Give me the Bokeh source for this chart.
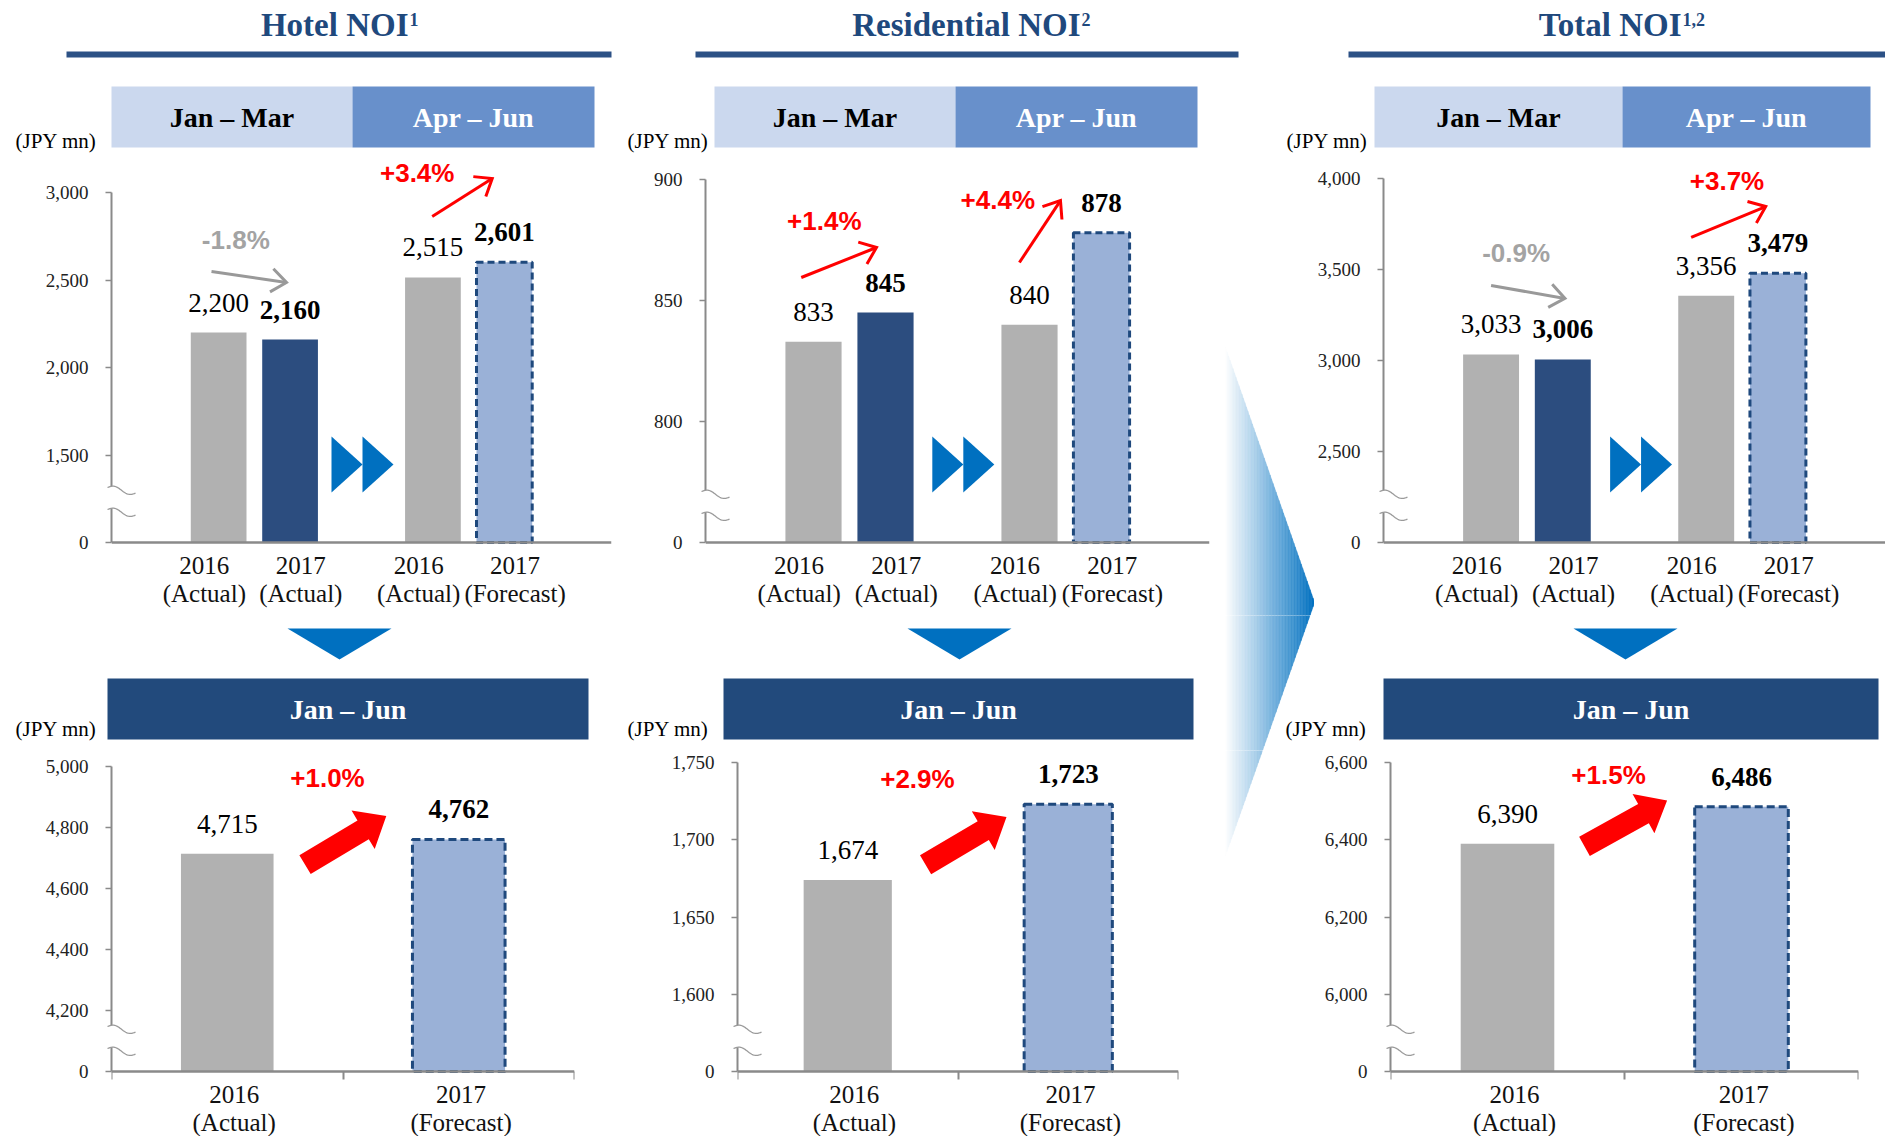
import math
from bokeh.plotting import figure
from bokeh.layouts import column, row
from bokeh.models import Range1d, FixedTicker, LinearAxis
from bokeh.core.properties import value
from bokeh.embed import file_html
from bokeh.resources import INLINE

# ---------------- data ----------------
quarter_labels = ["2016\n(Actual)", "2017\n(Actual)", "2016\n(Actual)", "2017\n(Forecast)"]
half_labels = ["2016\n(Actual)", "2017\n(Forecast)"]

hotel_quarter = [2200, 2160, 2515, 2601]
residential_quarter = [833, 845, 840, 878]
total_quarter = [3033, 3006, 3356, 3479]

hotel_half = [4715, 4762]
residential_half = [1674, 1723]
total_half = [6390, 6486]

# broken value axes: the first tick is the axis floor, shown as "0"
hotel_quarter_ticks = [1000, 1500, 2000, 2500, 3000]
hotel_quarter_tick_labels = ["0", "1,500", "2,000", "2,500", "3,000"]
residential_quarter_ticks = [750, 800, 850, 900]
residential_quarter_tick_labels = ["0", "800", "850", "900"]
total_quarter_ticks = [2000, 2500, 3000, 3500, 4000]
total_quarter_tick_labels = ["0", "2,500", "3,000", "3,500", "4,000"]

hotel_half_ticks = [4000, 4200, 4400, 4600, 4800, 5000]
hotel_half_tick_labels = ["0", "4,200", "4,400", "4,600", "4,800", "5,000"]
residential_half_ticks = [1550, 1600, 1650, 1700, 1750]
residential_half_tick_labels = ["0", "1,600", "1,650", "1,700", "1,750"]
total_half_ticks = [5800, 6000, 6200, 6400, 6600]
total_half_tick_labels = ["0", "6,000", "6,200", "6,400", "6,600"]

hotel_changes = ["-1.8%", "+3.4%", "+1.0%"]
residential_changes = ["+1.4%", "+4.4%", "+2.9%"]
total_changes = ["-0.9%", "+3.7%", "+1.5%"]

section_titles = ["Hotel NOI", "Residential NOI", "Total NOI"]
section_notes = ["1", "2", "1,2"]
quarter_headers = ["Jan – Mar", "Apr – Jun"]
half_header = "Jan – Jun"
unit_label = "(JPY mn)"

# ---------------- style ----------------
SERIF = value("Liberation Serif")
SANS = value("Liberation Sans")
GRAY_BAR = "#b1b1b1"
NAVY_BAR = "#2c4d7f"
FC_FILL = "#9ab1d7"
FC_LINE = "#1f497d"
TITLE_C = "#1f497d"
UNDERLINE_C = "#2c5185"
HDR_LIGHT = "#cbd8ee"
HDR_MID = "#6890cb"
HDR_DARK = "#224a7c"
BLUE = "#0070c0"
RED = "#ff0000"
GRAY_TXT = "#a3a3a3"
AXIS_C = "#8a8a8a"

QX = [1.5, 2.5, 4.5, 5.5]          # bar positions, quarter charts
QX_LABEL = [1.3, 2.65, 4.3, 5.65]  # label anchors, quarter charts
HX = [0.5, 1.5]                    # bar positions, half-year charts
HX_LABEL = [0.53, 1.51]

BAND_A = 156      # header band height
TOP_FRAME = 386   # px above the axis floor, quarter charts
TOP_FLOOR = 73    # px below the axis floor, quarter charts
BOT_FRAME = 321
BOT_FLOOR = 65


def base_fig(width, height, xr, yr, left=0, right=0):
    p = figure(width=width, height=height, x_range=xr, y_range=yr,
               output_backend="svg", toolbar_location=None, title=None,
               x_axis_location=None, y_axis_location=None, min_border=0,
               min_border_left=left, min_border_right=right,
               min_border_top=0, min_border_bottom=0)
    p.frame_align = False
    p.outline_line_color = None
    p.xgrid.visible = False
    p.ygrid.visible = False
    p.background_fill_color = "white"
    p.border_fill_color = "white"
    return p


def make_chart(width, left, right, x_end, base, sy, frame_px, floor_px,
               ticks, tick_labels, xt, xl, boundary_ticks, standoff):
    height = frame_px + floor_px
    p = base_fig(width, height, Range1d(0, x_end),
                 Range1d(base - floor_px / sy, base + frame_px / sy), left, right)
    yax = LinearAxis(ticker=FixedTicker(ticks=ticks, minor_ticks=[]),
                     bounds=(ticks[0], ticks[-1]))
    yax.major_label_overrides = {t: s for t, s in zip(ticks, tick_labels)}
    yax.axis_line_color = AXIS_C
    yax.axis_line_width = 2
    yax.major_tick_line_color = AXIS_C
    yax.major_tick_line_width = 1.5
    yax.major_tick_in = 0
    yax.major_tick_out = 6
    yax.minor_tick_line_color = None
    yax.major_label_standoff = 17
    yax.major_label_text_font = "Liberation Serif"
    yax.major_label_text_font_size = "19px"
    yax.major_label_text_color = "#222222"
    p.add_layout(yax, "left")

    # category axis drawn at the axis floor, inside the frame
    xax = LinearAxis(ticker=FixedTicker(ticks=xt, minor_ticks=boundary_ticks),
                     fixed_location=base)
    xax.major_label_overrides = {t: s for t, s in zip(xt, xl)}
    xax.axis_line_color = AXIS_C
    xax.axis_line_width = 2.5
    xax.major_tick_line_color = None
    xax.major_tick_in = 0
    xax.major_tick_out = 0
    if boundary_ticks:
        xax.minor_tick_line_color = AXIS_C
        xax.minor_tick_line_width = 2
        xax.minor_tick_in = 0
        xax.minor_tick_out = 8
    else:
        xax.minor_tick_line_color = None
    xax.major_label_standoff = standoff
    xax.major_label_text_font = "Liberation Serif"
    xax.major_label_text_font_size = "25px"
    xax.major_label_text_color = "#111111"
    xax.major_label_text_line_height = 1.05
    p.add_layout(xax, "below")
    return p


def value_labels(p, xs, vals, bold_mask):
    for style, want in (("normal", False), ("bold", True)):
        xx = [x for x, b in zip(xs, bold_mask) if b == want]
        vv = [v for v, b in zip(vals, bold_mask) if b == want]
        p.text(x=xx, y=vv, text=[f"{v:,}" for v in vv], text_font=SERIF,
               text_font_size="27px", text_font_style=style, text_color="black",
               text_align="center", text_baseline="middle", y_offset=-30)


def pct_label(p, x, y, s, color):
    p.text(x=[x], y=[y], text=[s], text_font=SANS, text_font_size="26px",
           text_font_style="bold", text_color=color, text_align="center",
           text_baseline="middle")


def line_arrow(p, x0, y0, x1, y1, sx, sy, color, lw=3.0, head=19, ang=38):
    X0, Y0, X1, Y1 = x0 * sx, y0 * sy, x1 * sx, y1 * sy
    dx, dy = X1 - X0, Y1 - Y0
    L = math.hypot(dx, dy)
    ux, uy = dx / L, dy / L
    bx, by = [], []
    for a in (math.radians(ang), -math.radians(ang)):
        rx = ux * math.cos(a) - uy * math.sin(a)
        ry = ux * math.sin(a) + uy * math.cos(a)
        bx.append((X1 - head * rx) / sx)
        by.append((Y1 - head * ry) / sy)
    p.multi_line(xs=[[x0, x1], [bx[0], x1, bx[1]]], ys=[[y0, y1], [by[0], y1, by[1]]],
                 line_color=color, line_width=lw, line_join="miter", line_cap="butt")


def block_arrow(p, x0, y0, x1, y1, sx, sy, color=RED, shaft=22, head_w=45, head_l=27):
    X0, Y0, X1, Y1 = x0 * sx, y0 * sy, x1 * sx, y1 * sy
    dx, dy = X1 - X0, Y1 - Y0
    L = math.hypot(dx, dy)
    ux, uy = dx / L, dy / L
    nx, ny = -uy, ux
    NX, NY = X1 - ux * head_l, Y1 - uy * head_l
    pts = [(X0 + nx * shaft / 2, Y0 + ny * shaft / 2),
           (NX + nx * shaft / 2, NY + ny * shaft / 2),
           (NX + nx * head_w / 2, NY + ny * head_w / 2),
           (X1, Y1),
           (NX - nx * head_w / 2, NY - ny * head_w / 2),
           (NX - nx * shaft / 2, NY - ny * shaft / 2),
           (X0 - nx * shaft / 2, Y0 - ny * shaft / 2)]
    p.patch([a / sx for a, _ in pts], [b / sy for _, b in pts], fill_color=color, line_color=None)


def play_marks(p, x_left, base, sx, sy):
    xs, ys = [], []
    for k in range(2):
        L0 = x_left + k * 31 / sx
        xs.append([L0, L0, L0 + 31 / sx])
        ys.append([base + 50 / sy, base + 106 / sy, base + 78 / sy])
    p.patches(xs, ys, fill_color=BLUE, line_color=None)


def axis_break(p, base, sx, sy, mid_px, half_gap=11):
    n = 24
    us = [-4 + 28 * i / (n - 1) for i in range(n)]

    def wave(off):
        return [off + 2.6 * math.sin(2 * math.pi * (u + 4) / 28) - 0.2 * (u + 4) for u in us]

    top = wave(mid_px + half_gap)
    bot = wave(mid_px - half_gap)
    xs = [u / sx for u in us]
    r = p.patch(xs + xs[::-1], [base + t / sy for t in top] + [base + b / sy for b in bot[::-1]],
                fill_color="white", line_color=None)
    r.level = "overlay"
    r2 = p.multi_line(xs=[xs, xs], ys=[[base + t / sy for t in top], [base + b / sy for b in bot]],
                      line_color="#9a9a9a", line_width=1.3)
    r2.level = "overlay"


def quarter_bars(p, vals, base):
    p.vbar(x=QX[:3], top=vals[:3], bottom=base, width=0.78,
           fill_color=[GRAY_BAR, NAVY_BAR, GRAY_BAR], line_color=None)
    p.vbar(x=QX[3:], top=vals[3:], bottom=base, width=0.78, fill_color=FC_FILL,
           line_color=FC_LINE, line_width=3, line_dash="7 4")
    value_labels(p, QX, vals, [False, True, False, True])


def half_bars(p, vals, base):
    p.vbar(x=HX[:1], top=vals[:1], bottom=base, width=0.4, fill_color=GRAY_BAR, line_color=None)
    p.vbar(x=HX[1:], top=vals[1:], bottom=base, width=0.4, fill_color=FC_FILL,
           line_color=FC_LINE, line_width=3, line_dash="8 4")
    value_labels(p, HX, vals, [False, True])


# ---------------- top charts (Jan-Mar / Apr-Jun) ----------------
# Hotel
sx, sy = 500 / 7, 0.175
h_top = make_chart(615, 111, 4, 7, 1000, sy, TOP_FRAME, TOP_FLOOR,
                   hotel_quarter_ticks, hotel_quarter_tick_labels, QX_LABEL, quarter_labels, [], 9)
quarter_bars(h_top, hotel_quarter, 1000)
pct_label(h_top, 1.74, 2726, hotel_changes[0], GRAY_TXT)
line_arrow(h_top, 1.40, 2549, 2.45, 2486, sx, sy, "#999999")
pct_label(h_top, 4.28, 3109, hotel_changes[1], RED)
line_arrow(h_top, 4.49, 2863, 5.33, 3080, sx, sy, RED)
play_marks(h_top, 3.08, 1000, sx, sy)
axis_break(h_top, 1000, sx, sy, 44)

# Residential
sx, sy = 504 / 7, 2.42
r_top = make_chart(607, 90, 13, 7, 750, sy, TOP_FRAME, TOP_FLOOR,
                   residential_quarter_ticks, residential_quarter_tick_labels, QX_LABEL, quarter_labels, [], 9)
quarter_bars(r_top, residential_quarter, 750)
pct_label(r_top, 1.65, 883, residential_changes[0], RED)
line_arrow(r_top, 1.33, 859.5, 2.375, 871.9, sx, sy, RED)
pct_label(r_top, 4.06, 891.7, residential_changes[1], RED)
line_arrow(r_top, 4.36, 865.7, 4.93, 891.3, sx, sy, RED)
play_marks(r_top, 3.15, 750, sx, sy)
axis_break(r_top, 750, sx, sy, 40)

# Total
sx, sy = 503 / 7, 0.182
t_top = make_chart(571, 68, 0, 7, 2000, sy, TOP_FRAME, TOP_FLOOR,
                   total_quarter_ticks, total_quarter_tick_labels, QX_LABEL, quarter_labels, [], 9)
quarter_bars(t_top, total_quarter, 2000)
pct_label(t_top, 1.85, 3588, total_changes[0], GRAY_TXT)
line_arrow(t_top, 1.50, 3412, 2.53, 3341, sx, sy, "#999999")
pct_label(t_top, 4.79, 3989, total_changes[1], RED)
line_arrow(t_top, 4.29, 3676, 5.33, 3846, sx, sy, RED)
play_marks(t_top, 3.16, 2000, sx, sy)
axis_break(t_top, 2000, sx, sy, 40)

# ---------------- bottom charts (Jan-Jun) ----------------
sx, sy = 463 / 2, 0.3046
h_bot = make_chart(615, 111, 41, 2, 4000, sy, BOT_FRAME, BOT_FLOOR,
                   hotel_half_ticks, hotel_half_tick_labels, HX_LABEL, half_labels, [0, 1, 2], 1)
half_bars(h_bot, hotel_half, 4000)
pct_label(h_bot, 0.933, 4962, hotel_changes[2], RED)
block_arrow(h_bot, 0.836, 4679, 1.187, 4839, sx, sy)
axis_break(h_bot, 4000, sx, sy, 34)

sx, sy = 441 / 2, 1.5448
r_bot = make_chart(607, 122, 44, 2, 1550, sy, BOT_FRAME, BOT_FLOOR,
                   residential_half_ticks, residential_half_tick_labels, HX_LABEL, half_labels, [0, 1, 2], 1)
half_bars(r_bot, residential_half, 1550)
pct_label(r_bot, 0.816, 1739.6, residential_changes[2], RED)
block_arrow(r_bot, 0.853, 1683.9, 1.220, 1714.8, sx, sy)
axis_break(r_bot, 1550, sx, sy, 34)

sx, sy = 468 / 2, 0.386
t_bot = make_chart(571, 76, 27, 2, 5800, sy, BOT_FRAME, BOT_FLOOR,
                   total_half_ticks, total_half_tick_labels, HX_LABEL, half_labels, [0, 1, 2], 1)
half_bars(t_bot, total_half, 5800)
pct_label(t_bot, 0.932, 6567, total_changes[2], RED)
block_arrow(t_bot, 0.829, 6383, 1.182, 6502, sx, sy)
axis_break(t_bot, 5800, sx, sy, 34)


# ---------------- decorations (page pixel coordinates) ----------------
def draw_headers(p):
    ends = [408, 1080, 1681]
    p.text(x=ends, y=[24] * 3, text=section_titles, text_align="right",
           text_baseline="middle", text_font=SERIF, text_font_size="33px",
           text_font_style="bold", text_color=TITLE_C)
    p.text(x=[e + 1 for e in ends], y=[19] * 3, text=section_notes, text_align="left",
           text_baseline="middle", text_font=SERIF, text_font_size="18px",
           text_font_style="bold", text_color=TITLE_C)
    p.quad(left=[66, 695, 1348], right=[611, 1238, 1885], top=51, bottom=57,
           fill_color=UNDERLINE_C, line_color=None)
    bl, bm, br = [111, 714, 1374], [352, 955, 1622], [594, 1197, 1870]
    p.quad(left=bl, right=bm, top=86, bottom=147, fill_color=HDR_LIGHT, line_color=None)
    p.quad(left=bm, right=br, top=86, bottom=147, fill_color=HDR_MID, line_color=None)
    p.text(x=[(a + b) / 2 for a, b in zip(bl, bm)], y=[117] * 3, text=[quarter_headers[0]] * 3,
           text_align="center", text_baseline="middle", text_font=SERIF,
           text_font_size="28px", text_font_style="bold", text_color="black")
    p.text(x=[(a + b) / 2 for a, b in zip(bm, br)], y=[117] * 3, text=[quarter_headers[1]] * 3,
           text_align="center", text_baseline="middle", text_font=SERIF,
           text_font_size="28px", text_font_style="bold", text_color="white")
    p.text(x=[15, 627, 1286], y=[140] * 3, text=[unit_label] * 3,
           text_align="left", text_baseline="middle", text_font=SERIF,
           text_font_size="21px", text_color="black")


def draw_middle(p):
    cs = [339, 959, 1625]
    p.patches(xs=[[c - 52, c + 52, c] for c in cs], ys=[[628, 628, 659]] * 3,
              fill_color=BLUE, line_color=None)
    dl, dr = [107, 723, 1383], [588, 1193, 1878]
    p.quad(left=dl, right=dr, top=678, bottom=739, fill_color=HDR_DARK, line_color=None)
    p.text(x=[(a + b) / 2 for a, b in zip(dl, dr)], y=[709] * 3, text=[half_header] * 3,
           text_align="center", text_baseline="middle", text_font=SERIF,
           text_font_size="28px", text_font_style="bold", text_color="white")
    p.text(x=[15, 627, 1285], y=[728] * 3, text=[unit_label] * 3,
           text_align="left", text_baseline="middle", text_font=SERIF,
           text_font_size="21px", text_color="black")


def draw_chevron(p):
    x0c, x1c, ytop, ytip, ybot = 1225.0, 1314.0, 347.0, 602.0, 855.0
    n = 60
    xs, ys, cols = [], [], []
    for i in range(n):
        a = x0c + (x1c - x0c) * i / n
        b = x0c + (x1c - x0c) * (i + 1) / n
        ta = ytop + (a - x0c) * (ytip - ytop) / (x1c - x0c)
        tb = ytop + (b - x0c) * (ytip - ytop) / (x1c - x0c)
        ba = ybot - (a - x0c) * (ybot - ytip) / (x1c - x0c)
        bb = ybot - (b - x0c) * (ybot - ytip) / (x1c - x0c)
        xs.append([a, b, b, a])
        ys.append([ta, tb, bb, ba])
        t = (i + 0.5) / n
        cols.append("#%02x%02x%02x" % (round(255 - 255 * t), round(255 - 143 * t), round(255 - 63 * t)))
    p.patches(xs=xs, ys=ys, fill_color=cols, line_color=cols, line_width=0.6)


def deco_fig(x0, x1, y0, y1, painters):
    p = base_fig(x1 - x0, y1 - y0, Range1d(x0, x1), Range1d(y1, y0))
    for f in painters:
        f(p)
    return p


top_floor_y = BAND_A + TOP_FRAME                 # 542
band_c_end = top_floor_y + TOP_FLOOR + 135        # 750
band_a = deco_fig(0, 1885, 0, BAND_A, [draw_headers])
chev_b = deco_fig(1222, 1314, BAND_A, top_floor_y + TOP_FLOOR, [draw_chevron])
band_c = deco_fig(0, 1885, top_floor_y + TOP_FLOOR, band_c_end, [draw_chevron, draw_middle])
chev_d = deco_fig(1222, 1314, band_c_end, band_c_end + BOT_FRAME + BOT_FLOOR, [draw_chevron])

layout = column(
    band_a,
    row(h_top, r_top, chev_b, t_top, spacing=0),
    band_c,
    row(h_bot, r_bot, chev_d, t_bot, spacing=0),
    spacing=0,
)

open("out.html", "w").write(file_html(layout, INLINE))
